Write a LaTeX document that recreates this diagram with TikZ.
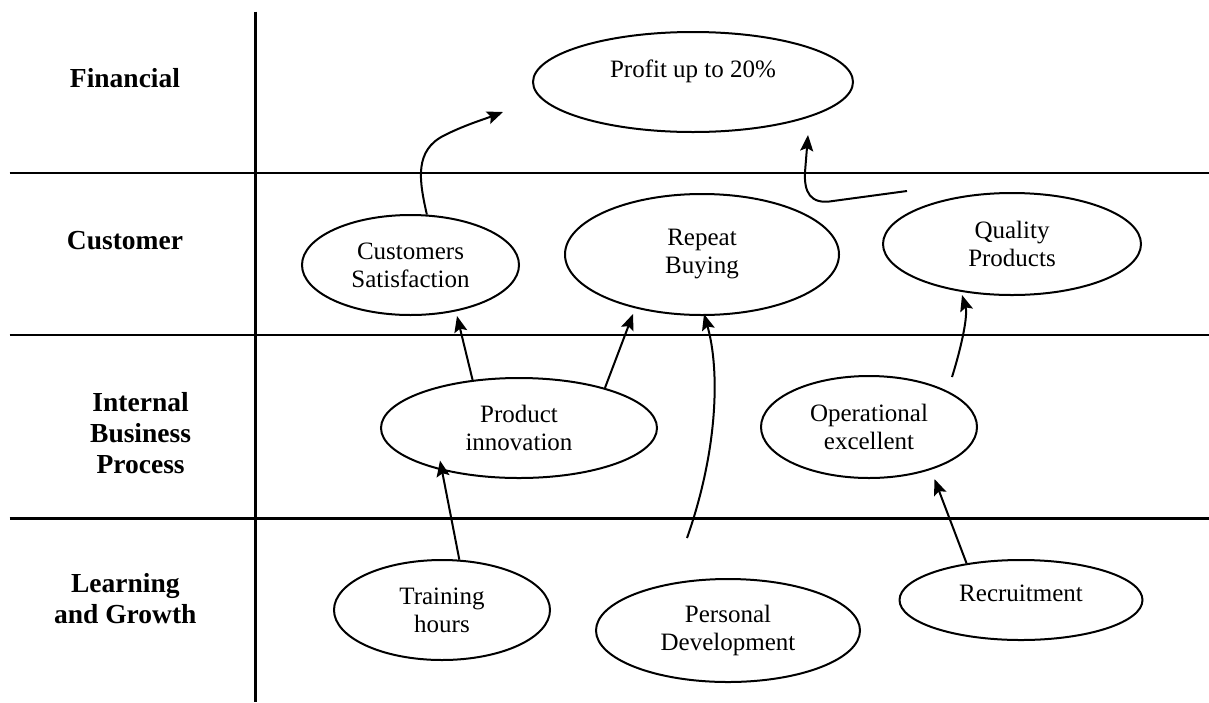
\documentclass[tikz,border=0pt]{standalone}
\usepackage{fontspec}
\setmainfont{Liberation Serif}
\usetikzlibrary{shapes.geometric,arrows.meta}

\begin{document}
\begin{tikzpicture}[x=1pt,y=-1pt,
  grid/.style={line width=2.6pt},
  goal/.style={ellipse,draw,line width=2pt,inner sep=0pt,align=center,
    font=\fontsize{25}{28}\selectfont},
  persp/.style={align=center,font=\fontsize{27.5}{31}\selectfont\bfseries},
  link/.style={line width=2pt,-{Stealth[length=16pt,width=13pt,inset=3pt]}}]
\useasboundingbox (0,0) rectangle (1209,702);

% perspective grid
\draw[grid] (255.6,11.7) -- (255.6,702);
\draw[grid] (9.6,173) -- (1209,173);
\draw[grid] (9.6,335) -- (1209,335);
\draw[grid] (9.6,518.5) -- (1209,518.5);

% perspective names
\node[persp,anchor=base] (fin) at (125,87.3) {Financial};
\node[persp,anchor=base] (cust) at (125,249.3) {Customer};
\node[persp] (ibp) at (140.6,432.7) {Internal\\Business\\Process};
\node[persp] (lg) at (125.3,599) {Learning\\and Growth};

% objectives
\node[goal,minimum width=320pt,minimum height=100pt,text height=18pt,text depth=28pt]
  (profit) at (693,82) {Profit up to 20\%};
\node[goal,minimum width=217pt,minimum height=100pt] (cs) at (410.5,265) {Customers\\Satisfaction};
\node[goal,minimum width=274pt,minimum height=121pt] (rb) at (702,254.5) {Repeat\\Buying};
\node[goal,minimum width=258pt,minimum height=102pt] (qp) at (1012,244) {Quality\\Products};
\node[goal,minimum width=276pt,minimum height=100pt] (pi) at (519,428) {Product\\innovation};
\node[goal,minimum width=216pt,minimum height=102pt] (oe) at (869,427) {Operational\\excellent};
\node[goal,minimum width=216pt,minimum height=100pt] (th) at (442,610) {Training\\hours};
\node[goal,minimum width=264pt,minimum height=103pt] (pd) at (728,630.5) {Personal\\Development};
\node[goal,minimum width=243pt,minimum height=80pt,text height=17pt,text depth=15pt]
  (rc) at (1021,600) {Recruitment};

% free ends of the links
\coordinate (csTip) at (503,112);
\coordinate (qpStart) at (907,191);
\coordinate (qpTip) at (808,135);
\coordinate (piCsTip) at (457,316);
\coordinate (piRbTip) at (633,314);
\coordinate (pdStart) at (687,538);
\coordinate (pdTip) at (704,314);
\coordinate (oeStart) at (952,377);
\coordinate (oeTip) at (962,295);
\coordinate (thTip) at (440,460.5);
\coordinate (rcTip) at (934.5,479);

% cause-and-effect links
\draw[link] (cs.72.6) .. controls (419,180) and (414,150) .. (445,135)
  .. controls (465,125) and (482,120) .. (csTip);
\draw[link] (qpStart) -- (833,201) .. controls (810,205) and (804,192) .. (805,172) -- (qpTip);
\draw[link] (pi.134.6) -- (piCsTip);
\draw[link] (pi.25.5) -- (piRbTip);
\draw[link] (pdStart) .. controls (718,450) and (720,370) .. (pdTip);
\draw[link] (oeStart) .. controls (962,345) and (968,315) .. (oeTip);
\draw[link] (th.71.5) -- (thTip);
\draw[link] (rc.146.6) -- (rcTip);
\end{tikzpicture}
\end{document}
